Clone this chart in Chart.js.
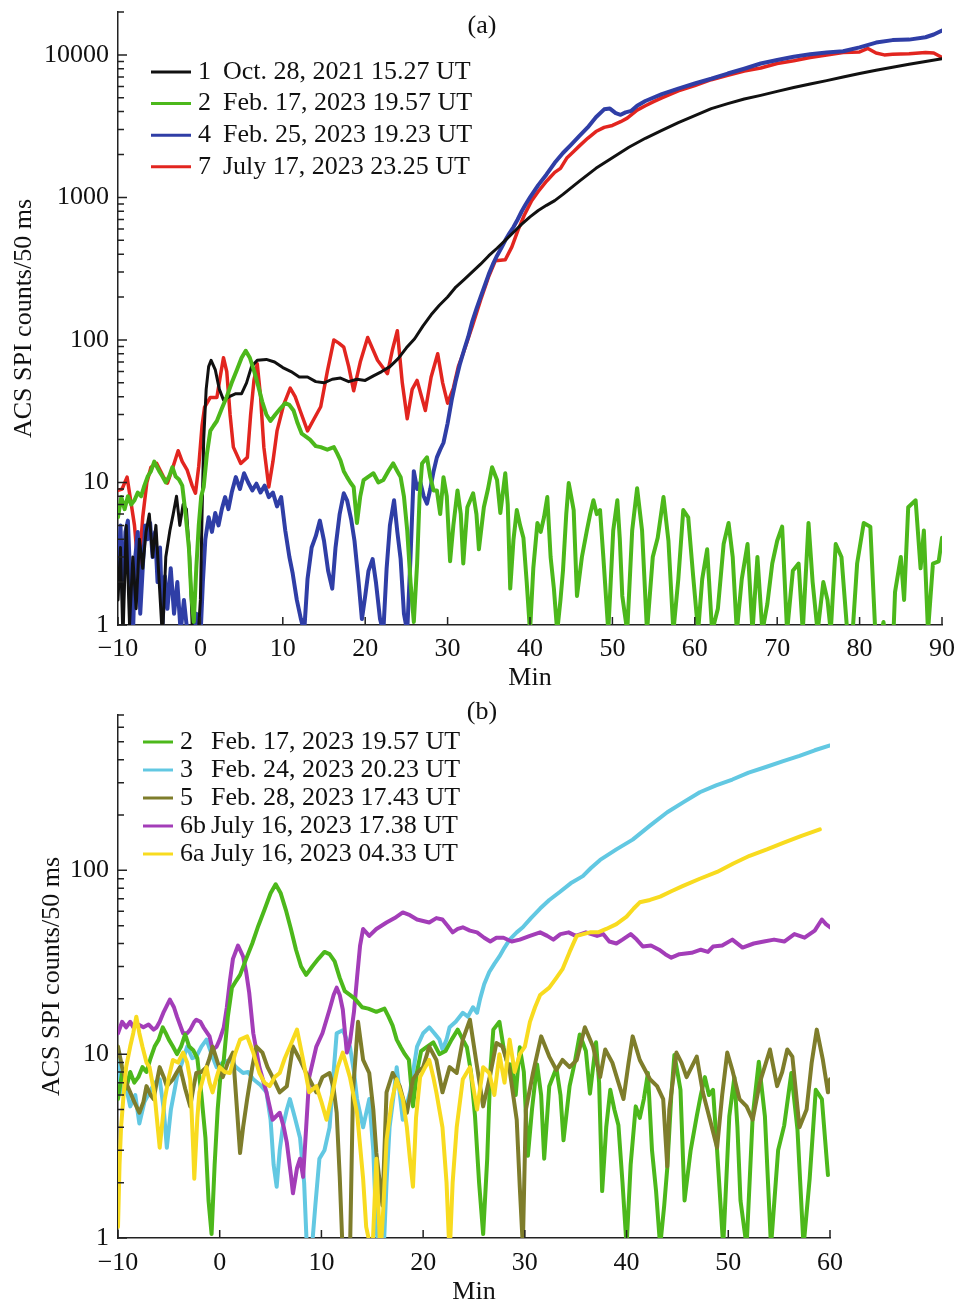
<!DOCTYPE html>
<html lang="en">
<head>
  <meta charset="UTF-8">
  <title>ACS SPI count rates</title>
  <script src="https://cdn.jsdelivr.net/npm/chart.js"></script>
  <style>
    html, body { margin: 0; padding: 0; background: #fff; }
    #page { position: relative; width: 957px; height: 1305px; }
    canvas { position: absolute; left: 0; }
    #chartA { top: 0; }
    #chartB { top: 700px; }
  </style>
</head>
<body>
  <div id="page">
    <canvas id="chartA" width="957" height="700"></canvas>
    <canvas id="chartB" width="957" height="605"></canvas>
  </div>

  <script>
    // ---- data: [minute, counts/50 ms] ----

    // 1  Oct. 28, 2021 15.27 UT (black)
    var ev1 = [[-10,1.5],[-9.7,3.5],[-9.4,0.8],[-9,5],[-8.6,1],[-8.2,3],[-7.8,1.3],[-7.4,4],[-7,2.5],[-6.6,4.5],[-6.2,6],[-5.8,3],[-5.4,5],[-5,2],[-4.6,0.8],[-4.2,3],[-3.7,4.6],[-3.3,6],[-2.9,8],[-2.5,5],[-2.1,7],[-1.7,6.5],[-1.3,3],[-1,1],[-0.6,0.8],[-0.3,0.8],[0,1.5],[0.2,6],[0.4,20],[0.7,45],[1,65],[1.3,72],[1.8,62],[2.3,45],[2.8,38],[3.5,40],[4.3,42],[5,42],[5.6,50],[6.2,65],[6.9,72],[8,73],[9,70],[10,64],[11,60],[12,55],[13,55],[14,51],[15,50],[16,53],[17,54],[18,51],[19,53],[20,52],[21,56],[22,60],[23,65],[24,74],[25,88],[26,102],[27,125],[28,150],[29,175],[30,200],[31,235],[32,265],[33,300],[34,340],[35,390],[36,440],[37,500],[38,570],[39,650],[40,730],[41,810],[42,880],[43,950],[44,1050],[46,1300],[48,1600],[50,1900],[52,2250],[54,2600],[56,2950],[58,3350],[60,3750],[62,4200],[64,4550],[66,4900],[68,5200],[70,5550],[72,5900],[74,6250],[76,6600],[78,7000],[80,7400],[82,7800],[84,8200],[86,8600],[88,9000],[90,9400]];

    // 2  Feb. 17, 2023 19.57 UT (green, both panels)
    var ev2 = [[-10,5.7],[-9.6,7.9],[-9.2,6.5],[-8.8,8],[-8.4,7],[-8,7.5],[-7.6,8.5],[-7.2,8],[-6.8,9.5],[-6.4,11],[-6,12],[-5.6,14],[-5.3,13],[-5,12],[-4.6,11],[-4.2,10],[-3.8,11],[-3.4,12.8],[-3,11],[-2.6,10.5],[-2.2,9.5],[-1.8,6],[-1.4,3.5],[-1.1,1.6],[-0.8,1.05],[-0.5,2.5],[-0.2,5],[0.1,8],[0.4,9.3],[0.8,16],[1.2,23],[1.6,25],[2,27],[2.6,33],[3.2,40],[3.8,50],[4.4,61],[5,75],[5.5,84],[6,75],[6.5,61],[7,48],[7.5,37],[8,30],[8.5,27],[9.1,30],[9.7,33],[10.3,36],[10.8,35],[11.3,32],[11.8,26],[12.3,22],[12.8,21],[13.3,20],[14,18],[14.6,17.7],[15.4,17],[16.2,17.7],[16.6,16],[17,14.3],[17.4,12],[17.8,10.9],[18.2,10],[18.6,9.3],[19,5.2],[19.4,8],[19.8,10.4],[20.4,11],[21,11.6],[21.6,10],[22.2,10.4],[22.8,12],[23.4,13.6],[23.9,12],[24.3,10.9],[24.7,8],[25.1,4.6],[25.5,2],[25.9,1.05],[26.3,2.7],[26.6,8],[26.9,13.6],[27.5,15],[27.9,10.9],[28.3,8.8],[28.7,8.8],[29.1,6],[29.5,10.9],[29.9,8],[30.3,2.8],[30.7,5],[31.2,8.8],[31.6,6],[31.9,2.7],[32.4,6.7],[33.1,8.4],[33.5,6],[33.8,3.4],[34.4,6.7],[34.9,9],[35.4,12.8],[36,10.4],[36.4,6.1],[37,11.6],[37.3,7],[37.6,1.8],[38,4],[38.4,6.4],[38.8,5],[39.2,4.1],[39.6,2],[40,0.9],[40.4,2.5],[40.9,5.2],[41.3,4.5],[41.7,5.7],[42.1,7.9],[42.5,3],[42.9,1.8],[43.3,0.9],[43.7,1.5],[44,2.4],[44.4,6],[44.7,9.9],[45,8],[45.3,6.4],[45.7,1.6],[46.3,3],[46.9,4.6],[47.3,6],[47.7,7.5],[48.1,6],[48.5,6.4],[48.9,3],[49.5,0.9],[50.1,4.6],[50.6,7.5],[50.9,4],[51.2,1.6],[51.8,0.9],[52.4,4.6],[53,9.1],[53.6,4.6],[54.2,0.9],[54.9,3],[55.5,4.1],[56.2,7.9],[56.8,3.9],[57.4,0.9],[58,2.1],[58.6,6.4],[59.2,5.7],[59.8,2.2],[60.4,0.9],[60.9,2.1],[61.5,3.4],[62.1,0.9],[62.8,1.3],[63.5,3.7],[64.1,5.2],[64.6,3],[65.1,0.9],[65.7,2.1],[66.4,3.7],[67,0.9],[67.6,3],[68.2,0.9],[68.8,1.4],[69.4,2.7],[70,3.9],[70.6,4.9],[71.2,0.9],[71.9,2.4],[72.6,2.7],[73.1,0.9],[73.8,5.2],[74.3,2],[74.9,0.9],[75.6,2],[76.1,1.5],[76.5,0.9],[77.1,3.7],[77.8,3],[78.5,0.9],[79.1,0.8],[79.7,2.7],[80.5,5.2],[81.3,4.9],[81.9,0.9],[82.5,0.8],[82.9,1.05],[83.4,0.6],[84,0.6],[84.3,1.7],[85,3],[85.4,1.5],[85.9,6.7],[86.8,7.5],[87.4,2.5],[87.8,4.6],[88.3,0.9],[88.9,2.7],[89.6,2.8],[90,4.1]];

    // 4  Feb. 25, 2023 19.23 UT (blue)
    var ev4 = [[-10,2],[-9.7,5],[-9.4,1.5],[-9.1,4.5],[-8.8,5.4],[-8.5,2],[-8.2,0.8],[-7.9,3],[-7.6,4.5],[-7.3,1.2],[-7,2.5],[-6.7,5],[-6.4,4],[-6.1,5.2],[-5.8,3],[-5.5,4.5],[-5.2,2],[-4.9,3.5],[-4.6,1],[-4.3,2.2],[-4,1.3],[-3.6,2.5],[-3.2,1.2],[-2.8,2],[-2.4,0.9],[-2,1.5],[-1.5,0.8],[-1,0.8],[-0.5,1.2],[0,0.8],[0.3,2],[0.6,4],[1,5.7],[1.4,4.5],[1.8,6.1],[2.2,5],[2.6,6.5],[3,7.9],[3.4,6.5],[3.8,8.5],[4.3,10.9],[4.8,9],[5.3,11.6],[5.8,10],[6.3,8.8],[6.8,9.8],[7.3,8.5],[7.8,9.5],[8.3,7.9],[8.8,8.5],[9.3,6.8],[9.8,7.9],[10.3,4.6],[10.8,3],[11.2,2.3],[11.7,1.5],[12.2,1.1],[12.6,0.9],[13,2.1],[13.5,3.5],[14,4.2],[14.5,5.4],[15,3.9],[15.5,2.4],[16,1.8],[16.4,3.5],[16.9,6],[17.4,8.4],[17.8,7.5],[18.3,5.5],[18.7,3.9],[19.2,2],[19.6,1.1],[20,1.6],[20.4,2.4],[20.9,2.9],[21.3,2],[21.8,1.1],[22.2,0.9],[22.6,2.5],[23,5],[23.5,7.5],[23.9,4.5],[24.3,2.9],[24.7,1.2],[25.1,0.9],[25.5,3],[25.9,12],[26.3,9],[26.7,10],[27.1,8],[27.5,7.1],[27.9,9],[28.3,12],[28.7,15],[29.1,17],[29.5,19],[30,26],[30.5,38],[31,52],[31.5,68],[32,85],[32.5,105],[33,135],[33.5,165],[34,200],[34.5,240],[35,290],[35.5,340],[36,390],[36.5,440],[37,500],[37.5,560],[38,620],[38.5,700],[39,800],[39.5,900],[40,1000],[41,1220],[42,1450],[43,1750],[44,2050],[45,2350],[46,2700],[47,3100],[48,3650],[49,4150],[49.7,4200],[50.4,3900],[51,3800],[51.6,3950],[52.3,4050],[53,4400],[54,4750],[56,5300],[58,5800],[60,6300],[62,6800],[64,7400],[66,8000],[68,8700],[70,9200],[72,9700],[74,10100],[76,10400],[78,10600],[80,11300],[82,12200],[84,12700],[86,12800],[88,13300],[89,13900],[90,14800]];

    // 7  July 17, 2023 23.25 UT (red)
    var ev7 = [[-10,8.8],[-9.5,9],[-8.9,10.9],[-8.4,7.1],[-8,5],[-7.5,2.3],[-7,5.7],[-6.5,10],[-6,12.8],[-5.3,13.6],[-4.5,11],[-4,9.9],[-3.3,13],[-2.7,16.7],[-2.2,14],[-1.6,12.2],[-1,9.5],[-0.6,8.4],[-0.2,13],[0.2,25],[0.5,33.6],[1.2,39.5],[2,39.5],[2.4,55],[2.8,75],[3.2,60],[3.6,30],[4,17.7],[4.9,13.6],[5.7,15],[6.1,30],[6.5,52],[6.9,68],[7.3,40],[7.7,17.7],[8.3,9.3],[8.8,14],[9.3,23],[10.1,35],[10.9,46],[11.5,40],[12.1,32],[13,23],[13.8,28],[14.6,34],[15.4,60],[16.2,100],[16.8,95],[17.4,89],[18,65],[18.6,44],[19.4,70],[20.3,104],[21.5,72],[22.7,58],[23.3,85],[23.9,116],[24.5,50],[25.1,28],[25.7,45],[26.3,52],[27.3,32],[28,55],[28.8,80],[29.4,50],[30,36],[30.7,46],[31.3,65],[32,84],[33,125],[34,190],[35,280],[35.8,360],[37,365],[37.8,450],[38.5,580],[39.3,750],[40.2,950],[41,1100],[42,1300],[43,1500],[43.7,1600],[44.5,1900],[45.3,2100],[46,2300],[47,2600],[48,2900],[49,3100],[50,3200],[51,3400],[51.8,3600],[53,4100],[54,4400],[55,4700],[56,5000],[58,5600],[60,6100],[62,6700],[64,7200],[66,7700],[68,8100],[70,8700],[72,9100],[74,9600],[76,10000],[78,10400],[80,10500],[81,11100],[82,10300],[83,10000],[84,10100],[86,10200],[88,10400],[89,10300],[90,9600]];

    // 3  Feb. 24, 2023 20.23 UT (light blue)
    var ev3 = [[-10,9.3],[-9.7,6.2],[-9.3,7],[-8.8,5.2],[-8.3,6],[-7.9,4.2],[-7.4,5.5],[-6.9,6.2],[-6.4,7],[-5.9,7.3],[-5.5,5],[-5.2,3.1],[-4.8,5],[-4.2,7.5],[-3.7,9],[-3.2,11],[-2.7,9.5],[-2.3,9.7],[-1.8,11],[-1.3,12],[-0.8,10],[-0.3,8.5],[0.3,9],[1,9.3],[1.6,8.5],[2.3,7.9],[2.8,8],[3.3,7.3],[4,6.8],[4.6,6.2],[5,4.4],[5.3,2.5],[5.6,1.9],[5.9,3],[6.2,4],[6.6,5],[6.9,5.7],[7.4,4.5],[7.9,3.5],[8.3,2],[8.6,0.8],[9,0.8],[9.4,1.5],[9.8,2.7],[10.3,3],[10.8,4],[11.2,8],[11.5,13],[12.1,13.5],[12.8,11],[13.2,8],[13.5,5.7],[14.1,4],[14.7,5.7],[15.1,3],[15.4,1.1],[15.8,0.8],[16.1,0.8],[16.4,2],[16.7,4],[17.1,6],[17.4,8.5],[18,4.4],[18.7,6.2],[19.4,11],[20,13],[20.6,14],[21.1,13],[21.6,12],[21.9,10.6],[22.3,12],[22.6,14],[23.2,15],[23.9,16.8],[24.4,16],[24.9,18],[25.3,16.8],[25.6,20],[26,24],[26.5,28],[27,31],[27.5,34],[28,38],[28.5,42],[29.2,46],[29.8,49],[30.6,55],[31.5,62],[32.4,69],[33.4,76],[34.5,85],[35.7,93],[36.5,103],[37.4,114],[39,130],[40.6,147],[42.3,175],[44,207],[45.6,235],[47.2,266],[48.8,290],[50.4,312],[52,340],[53.7,365],[55.4,393],[57,420],[58.5,450],[60,478]];

    // 5  Feb. 28, 2023 17.43 UT (olive)
    var ev5 = [[-10,11],[-9.6,8.5],[-9.2,7],[-8.8,6.2],[-8.4,5.5],[-7.9,4.8],[-7.5,5.5],[-7.2,6.7],[-6.8,6],[-6.5,5.7],[-6.2,7],[-5.9,8.5],[-5.5,7.5],[-5.2,6.7],[-4.9,7],[-4.6,7.3],[-4.2,8],[-3.9,8.5],[-3.4,6.5],[-2.9,5.2],[-2.6,6.5],[-2.3,7.9],[-1.8,8],[-1.3,8.5],[-1,9.5],[-0.7,11],[-0.2,9],[0.3,7.5],[0.8,9],[1.3,10.2],[1.7,5],[2,2.9],[2.3,4],[2.7,5.7],[3.2,8.5],[3.6,11],[4.2,10.2],[4.7,8.5],[5.2,7.5],[5.9,6.2],[6.6,6.7],[7.2,11],[7.9,9.3],[8.5,7.9],[9,7],[9.5,6.2],[10.1,7.5],[10.8,7.9],[11.2,6.5],[11.5,4.8],[11.8,2.15],[12.1,0.8],[12.8,0.8],[13.1,6.2],[13.6,15],[14.1,9.3],[14.7,7.9],[15.1,5],[15.4,2.9],[16,1.5],[16.4,6.2],[17,7.9],[17.7,6.7],[18.4,4.8],[19,7.3],[19.5,8],[20,8.5],[20.6,11],[21.3,9.3],[21.9,6.2],[22.6,8.5],[23.3,7.9],[23.9,12],[24.6,15.4],[25.2,9.3],[25.9,5.2],[26.5,7.3],[27.2,11.5],[27.8,11],[28.5,8.2],[29.2,4.4],[29.5,1.9],[29.8,0.9],[30.1,5],[30.8,7.9],[31.6,12.5],[32.4,9.7],[33.1,8.2],[33.7,9.3],[34.4,8.5],[35.1,9.3],[35.9,14],[36.7,11],[37.4,7.5],[37.9,10.6],[38.6,9],[39.2,7],[39.7,5.7],[40.2,9],[40.6,12.5],[41.3,9.3],[42.3,7.3],[43,6.7],[43.6,5.7],[44,2.45],[44.2,5],[44.9,10.2],[45.4,9],[45.9,7.5],[46.9,9.7],[47.5,6.2],[48.2,4.4],[48.9,3.1],[49.4,6],[49.9,10.2],[50.4,8.2],[51.1,5.7],[51.8,5.2],[52.4,4.4],[53.1,7],[54.1,10.6],[54.8,6.7],[55.3,8],[55.8,10.6],[56.3,9.7],[57,4],[57.7,5],[58.2,9],[58.7,13.6],[59.3,9.3],[59.8,6.2],[60,7.3]];

    // 6b July 16, 2023 17.38 UT (purple)
    var ev6b = [[-10,13],[-9.6,15],[-9.2,14],[-8.8,15],[-8.5,14],[-8,14.5],[-7.5,14],[-7,14.5],[-6.5,13.6],[-6.2,14],[-5.9,15],[-5.5,17],[-4.9,19.8],[-4.5,18],[-4.2,16],[-3.6,13],[-3.2,13],[-2.9,13.6],[-2.5,15],[-2.3,15.4],[-1.9,15],[-1.6,14],[-1,12.5],[-0.7,10.6],[-0.3,11],[0,12],[0.4,14],[0.7,18],[1,25],[1.3,33],[1.8,39],[2.3,34],[2.6,28],[2.9,21.6],[3.3,13],[3.9,8.5],[4.6,6.2],[5.2,4.4],[5.9,4.8],[6.3,4],[6.6,3.3],[7,2.2],[7.2,1.75],[7.6,2.4],[7.9,2.7],[8.2,2.15],[8.5,4],[8.8,7.5],[9.5,11],[10.1,13],[10.8,17.5],[11.2,21],[11.5,23],[11.8,21],[12.1,17.5],[12.5,10.2],[12.8,11.6],[13.2,17],[13.5,26],[13.8,39],[14.1,48],[14.7,44],[15.4,48],[16.4,52],[17.2,55],[18,59],[18.7,57],[19.4,54],[20,53],[20.6,52],[21.3,55],[21.9,54],[22.4,50],[22.9,46],[23.4,48],[23.9,49],[24.6,47],[25.3,46],[26,43],[26.6,41],[27.2,43],[27.9,43],[28.7,41],[29.5,42],[30.5,44],[31.5,46],[32.2,44],[32.8,42],[33.5,45],[34.3,46],[35,44],[36,46],[37.1,44],[37.7,45],[38.3,41],[39,40],[39.6,42],[40.4,45],[41,42],[41.6,38.5],[42.4,39],[43.2,37],[43.8,35],[44.4,33.5],[45.2,35],[46.4,35.6],[47.3,37],[48,36],[48.5,38.5],[49.4,39],[50.4,42],[51.4,38],[52.5,40],[53.5,41],[54.5,42],[55.5,41],[56.5,45],[57.5,43],[58.5,47],[59.2,54],[59.6,51],[60,49]];

    // 6a July 16, 2023 04.33 UT (yellow)
    var ev6a = [[-10,1.15],[-9.85,2.5],[-9.7,4],[-9.45,6],[-9.2,8.5],[-8.8,11],[-8.5,13],[-8.2,16],[-7.9,13],[-7.6,11],[-7.2,9],[-6.9,8.5],[-6.4,6],[-5.9,3.1],[-5.6,4.5],[-5.4,5.7],[-5,7.5],[-4.6,9.3],[-4.1,9],[-3.6,10.2],[-3.2,9],[-2.9,7.3],[-2.6,3],[-2.5,2.1],[-2.2,4.5],[-2,6.2],[-1.6,7.5],[-1.3,8.5],[-1,7],[-0.7,6.2],[-0.3,7.5],[0,8.5],[0.5,8],[1,7.9],[1.5,10],[2,12],[2.7,12.5],[3.3,10.2],[3.9,7.9],[4.4,7],[4.9,6.7],[5.4,7.5],[5.9,7.9],[6.4,9.5],[6.9,11],[7.6,13.6],[8.2,9.3],[8.8,6.2],[9.5,6.7],[10,5.5],[10.5,4.4],[11.1,6.2],[11.6,8.5],[12.1,10.2],[12.8,7.5],[13.5,4.8],[14.1,2.1],[14.4,1.15],[15,0.8],[15.4,2.7],[15.8,0.8],[16.1,1.5],[16.4,3.4],[16.9,5.5],[17.4,7.3],[18,5.7],[18.4,4],[18.7,2.7],[19,1.9],[19.3,4.5],[19.7,7.5],[20.2,8.5],[20.6,9.3],[21,7.5],[21.3,6.2],[21.9,4],[22.3,2],[22.6,0.8],[22.9,2],[23.3,4],[23.9,7.3],[24.6,8.5],[25.3,5],[25.9,8.5],[26.5,7.9],[27,6],[27.5,10],[28,7],[28.5,12],[29,8],[29.5,10],[30,11],[30.5,15],[31,18],[31.5,21],[32.4,23],[33.1,26],[33.7,29],[34.4,36],[35.1,44],[36.4,46],[37.2,46],[38,48],[39,51],[40,56],[40.7,62],[41.3,67],[42.3,69],[43.3,72],[44.4,77],[45.5,82],[47.2,90],[48.9,98],[50.5,109],[52.1,120],[53.8,130],[55.4,141],[57.2,154],[59,167]];

    // legend entries
    var tagsA = ['1', '2', '4', '7'];
    var namesA = ['Oct. 28, 2021 15.27 UT', 'Feb. 17, 2023 19.57 UT', 'Feb. 25, 2023 19.23 UT', 'July 17, 2023 23.25 UT'];
    var tagsB = ['2', '3', '5', '6b', '6a'];
    var namesB = ['Feb. 17, 2023 19.57 UT', 'Feb. 24, 2023 20.23 UT', 'Feb. 28, 2023 17.43 UT', 'July 16, 2023 17.38 UT', 'July 16, 2023 04.33 UT'];

    // axes
    var xTicksA = [-10, 0, 10, 20, 30, 40, 50, 60, 70, 80, 90];
    var xTickLabelsA = ['\u221210', '0', '10', '20', '30', '40', '50', '60', '70', '80', '90'];
    var xTicksB = [-10, 0, 10, 20, 30, 40, 50, 60];
    var xTickLabelsB = ['\u221210', '0', '10', '20', '30', '40', '50', '60'];
    var yTicksA = [1, 10, 100, 1000, 10000];
    var yTickLabelsA = ['1', '10', '100', '1000', '10000'];
    var yTicksB = [1, 10, 100];
    var yTickLabelsB = ['1', '10', '100'];
    var minorSteps = [2, 3, 4, 5, 6, 7, 8, 9];

    var colBlack = '#111111';
    var colGreen = '#4cb81b';
    var colBlue = '#2f3ea6';
    var colRed = '#e2251f';
    var colCyan = '#62c8e2';
    var colOlive = '#7e7d2b';
    var colPurple = '#a33db8';
    var colYellow = '#f8db1f';
    var axisColor = '#222222';
    var serif = '"Liberation Serif", "Times New Roman", serif';

    Chart.defaults.font.family = serif;
    Chart.defaults.font.size = 26;
    Chart.defaults.color = '#111111';

    function pts(list) {
      return list.map(function (p) { return { x: p[0], y: p[1] }; });
    }

    function minorValues(majors, max) {
      var out = [];
      majors.forEach(function (m) {
        minorSteps.forEach(function (s) { if (m * s <= max) out.push(m * s); });
      });
      return out;
    }

    // inward tick marks, panel letter and the legend box
    var panelDecor = {
      id: 'panelDecor',
      afterDraw: function (chart, args, opts) {
        var ctx = chart.ctx, a = chart.chartArea;
        var xs = chart.scales.x, ys = chart.scales.y;
        ctx.save();
        ctx.strokeStyle = axisColor;
        ctx.lineWidth = 1.5;
        ctx.beginPath();
        opts.yMajor.forEach(function (v) {
          var p = ys.getPixelForValue(v);
          ctx.moveTo(a.left, p); ctx.lineTo(a.left + 9, p);
        });
        opts.yMinor.forEach(function (v) {
          var p = ys.getPixelForValue(v);
          ctx.moveTo(a.left, p); ctx.lineTo(a.left + 6, p);
        });
        opts.xMajor.forEach(function (v) {
          var p = xs.getPixelForValue(v);
          ctx.moveTo(p, a.bottom); ctx.lineTo(p, a.bottom - 8);
        });
        ctx.stroke();

        ctx.fillStyle = '#111111';
        ctx.font = '26px ' + serif;
        ctx.textBaseline = 'middle';
        ctx.textAlign = 'center';
        ctx.fillText(opts.letter, opts.letterX, opts.letterY);

        var lg = opts.legend;
        ctx.textAlign = 'left';
        chart.data.datasets.forEach(function (ds, i) {
          var y = lg.y + i * lg.dy;
          ctx.strokeStyle = ds.borderColor;
          ctx.lineWidth = 3;
          ctx.beginPath();
          ctx.moveTo(lg.x, y);
          ctx.lineTo(lg.x + lg.len, y);
          ctx.stroke();
          ctx.fillText(ds.tag, lg.tagX, y);
          ctx.fillText(ds.label, lg.textX, y);
        });
        ctx.restore();
      }
    };

    function makePanel(id, p) {
      return new Chart(document.getElementById(id), {
        type: 'line',
        data: { datasets: p.datasets },
        plugins: [panelDecor],
        options: {
          responsive: false,
          animation: false,
          events: [],
          layout: { padding: p.padding },
          elements: {
            point: { radius: 0 },
            line: { tension: 0, borderJoinStyle: 'round', borderCapStyle: 'round' }
          },
          plugins: {
            legend: { display: false },
            tooltip: { enabled: false },
            panelDecor: {
              yMajor: p.yTicks,
              yMinor: minorValues(p.yTicks, p.yMax),
              xMajor: p.xTicks,
              letter: p.letter, letterX: 482, letterY: p.letterY,
              legend: p.legend
            }
          },
          scales: {
            x: {
              type: 'linear',
              min: p.xTicks[0],
              max: p.xTicks[p.xTicks.length - 1],
              grid: { display: false, drawTicks: false },
              border: { display: true, color: axisColor, width: 1.5 },
              afterBuildTicks: function (scale) {
                scale.ticks = p.xTicks.map(function (v) { return { value: v }; });
              },
              afterFit: function (scale) {
                scale.height = p.xHeight;
                scale.paddingLeft = 0;
                scale.paddingRight = 0;
              },
              ticks: {
                autoSkip: false,
                maxRotation: 0,
                padding: p.xLabelPad,
                callback: function (v, i) { return p.xLabels[i]; }
              },
              title: {
                display: true,
                text: 'Min',
                font: { size: 26, lineHeight: 1 },
                padding: { top: 0, bottom: p.xTitlePad }
              }
            },
            y: {
              type: 'logarithmic',
              min: 1,
              max: p.yMax,
              grid: { display: false, drawTicks: false },
              border: { display: true, color: axisColor, width: 1.5 },
              afterBuildTicks: function (scale) {
                scale.ticks = p.yTicks.map(function (v) { return { value: v, major: true }; });
              },
              afterFit: function (scale) {
                scale.width = 118;
                scale.paddingTop = 0;
                scale.paddingBottom = 0;
              },
              ticks: {
                autoSkip: false,
                padding: 9,
                callback: function (v, i) { return p.yLabels[i]; }
              },
              title: {
                display: true,
                text: 'ACS SPI counts/50 ms',
                font: { size: 26, lineHeight: 1 },
                padding: { top: p.yTitlePad, bottom: 0 }
              }
            }
          }
        }
      });
    }

    // panel (a)
    makePanel('chartA', {
      datasets: [
        { tag: tagsA[0], label: namesA[0], data: pts(ev1), borderColor: colBlack, borderWidth: 3, order: 1 },
        { tag: tagsA[1], label: namesA[1], data: pts(ev2), borderColor: colGreen, borderWidth: 4, order: 0 },
        { tag: tagsA[2], label: namesA[2], data: pts(ev4), borderColor: colBlue, borderWidth: 4, order: 2 },
        { tag: tagsA[3], label: namesA[3], data: pts(ev7), borderColor: colRed, borderWidth: 3.5, order: 3 }
      ],
      padding: { left: 0, top: 12, right: 15, bottom: 0 },
      xTicks: xTicksA, xLabels: xTickLabelsA,
      yTicks: yTicksA, yLabels: yTickLabelsA, yMax: 20000,
      xHeight: 75, xLabelPad: 9, xTitlePad: 9, yTitlePad: 11,
      letter: '(a)', letterY: 26,
      legend: { x: 151, len: 40, tagX: 198, textX: 223, y: 72, dy: 31.6 }
    });

    // panel (b)
    makePanel('chartB', {
      datasets: [
        { tag: tagsB[0], label: namesB[0], data: pts(ev2.filter(function (q) { return q[0] <= 60; })), borderColor: colGreen, borderWidth: 4, order: 2 },
        { tag: tagsB[1], label: namesB[1], data: pts(ev3), borderColor: colCyan, borderWidth: 4, order: 4 },
        { tag: tagsB[2], label: namesB[2], data: pts(ev5), borderColor: colOlive, borderWidth: 4, order: 1 },
        { tag: tagsB[3], label: namesB[3], data: pts(ev6b), borderColor: colPurple, borderWidth: 4, order: 3 },
        { tag: tagsB[4], label: namesB[4], data: pts(ev6a), borderColor: colYellow, borderWidth: 4, order: 0 }
      ],
      padding: { left: 0, top: 15, right: 127, bottom: 0 },
      xTicks: xTicksB, xLabels: xTickLabelsB,
      yTicks: yTicksB, yLabels: yTickLabelsB, yMax: 700,
      xHeight: 67, xLabelPad: 10, xTitlePad: 0, yTitlePad: 39,
      letter: '(b)', letterY: 12,
      legend: { x: 143, len: 30, tagX: 180, textX: 211, y: 42, dy: 28 }
    });
  </script>
</body>
</html>
